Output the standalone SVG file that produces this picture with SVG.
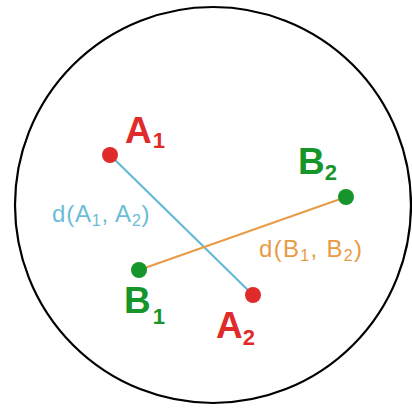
<svg xmlns="http://www.w3.org/2000/svg" width="412" height="409" viewBox="0 0 412 409">
<style>
.lbl{font-family:"Liberation Sans",Arial,sans-serif;font-weight:bold;font-size:37px}
.sub{font-size:22px}
.red{fill:#e02b2b}
.grn{fill:#16962a}
.dist{font-family:"Liberation Sans",Arial,sans-serif;font-size:24px;letter-spacing:0.8px}
.ds{font-size:16px}
</style>
<rect width="412" height="409" fill="#fff"/>
<circle cx="213" cy="205" r="198" fill="none" stroke="#000" stroke-width="2.2"/>
<g id="connectors">
<line x1="110" y1="155" x2="253" y2="295" stroke="#5db8d6" stroke-width="2"/>
<line x1="139" y1="270" x2="346" y2="197" stroke="#e89b45" stroke-width="2"/>
</g>
<g id="A1"><circle cx="110" cy="155" r="8" class="red"/><text x="125" y="143" class="lbl red">A<tspan class="sub" dx="1" dy="5">1</tspan></text></g>
<g id="A2"><circle cx="253" cy="295" r="8" class="red"/><text x="216" y="338" class="lbl red">A<tspan class="sub" dy="7">2</tspan></text></g>
<g id="B1"><circle cx="139" cy="270" r="8" class="grn"/><text x="124" y="313" class="lbl grn">B<tspan class="sub" dx="2" dy="11">1</tspan></text></g>
<g id="B2"><circle cx="346" cy="197" r="8" class="grn"/><text x="298" y="174" class="lbl grn">B<tspan class="sub" dy="6">2</tspan></text></g>
<text x="52" y="222" class="dist" fill="#6bbcd8">d(A<tspan class="ds" dy="4">1</tspan><tspan dy="-4">, A</tspan><tspan class="ds" dy="4">2</tspan><tspan dy="-4">)</tspan></text>
<text x="259" y="257" class="dist" fill="#e89b45" style="letter-spacing:1.3px">d(B<tspan class="ds" dy="4">1</tspan><tspan dy="-4">, B</tspan><tspan class="ds" dy="4">2</tspan><tspan dy="-4">)</tspan></text>
</svg>
